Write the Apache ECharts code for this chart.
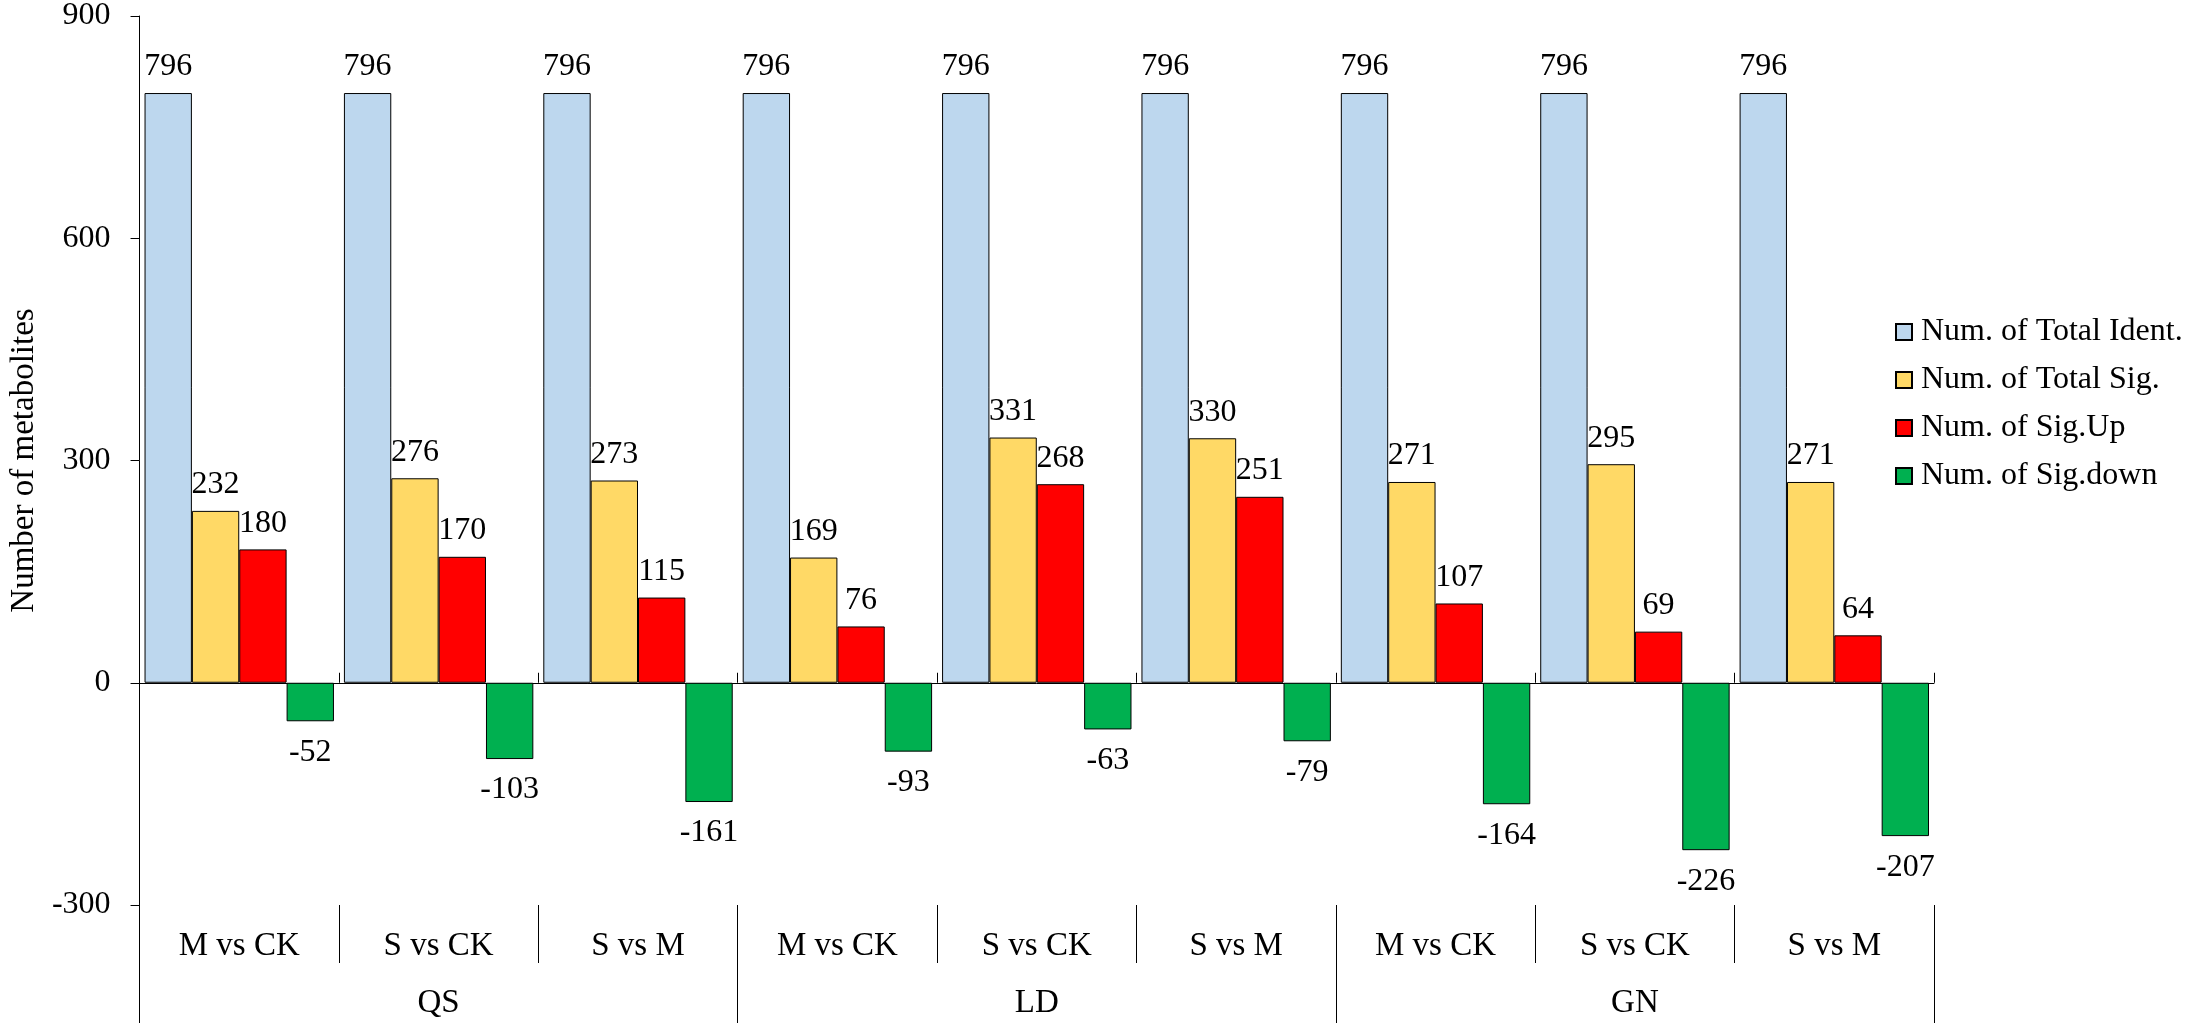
<!DOCTYPE html>
<html>
<head>
<meta charset="utf-8">
<script src="https://cdn.jsdelivr.net/npm/echarts@6/dist/echarts.min.js"></script>
<style>
  html, body { margin: 0; padding: 0; background: #fff; }
  #echart { width: 2189px; height: 1023px; }
</style>
</head>
<body>
<div id="echart"></div>
<script>
var dom = document.getElementById("echart");
var myChart = echarts.init(dom);

// categories and groups
let categories = ['M vs CK', 'S vs CK', 'S vs M', 'M vs CK', 'S vs CK', 'S vs M', 'M vs CK', 'S vs CK', 'S vs M'];
let groups = ['QS', 'LD', 'GN'];
let yTicks = [-300, 0, 300, 600, 900];

// series values
let totalIdent = [796, 796, 796, 796, 796, 796, 796, 796, 796];
let totalSig = [232, 276, 273, 169, 331, 330, 271, 295, 271];
let sigUp = [180, 170, 115, 76, 268, 251, 107, 69, 64];
let sigDown = [-52, -103, -161, -93, -63, -79, -164, -226, -207];

let font = 'Liberation Serif';

function barSeries(name, data, color, pos, dist) {
    return {
        name: name,
        type: 'bar',
        xAxisIndex: 0,
        barGap: 0,
        barCategoryGap: '5%',
        itemStyle: { color: color, borderColor: '#000', borderWidth: 1 },
        label: {
            show: true,
            position: pos,
            distance: dist,
            color: '#000',
            fontFamily: font,
            fontSize: 32
        },
        emphasis: { disabled: true },
        data: data
    };
}

var option = {
    animation: false,
    backgroundColor: '#fff',
    grid: {
        left: 126,
        right: 255,
        top: 11,
        bottom: 118
    },
    legend: {
        orient: 'vertical',
        left: 1890,
        top: 311,
        itemWidth: 16,
        itemHeight: 16,
        itemGap: 16,
        icon: 'rect',
        textStyle: { fontFamily: font, fontSize: 32, color: '#000', padding: [0, 0, 0, 4] },
        data: ['Num. of Total Ident.', 'Num. of Total Sig.', 'Num. of Sig.Up', 'Num. of Sig.down']
    },
    xAxis: [
        {
            type: 'category',
            position: 'bottom',
            data: categories,
            axisLine: { show: true, onZero: true, lineStyle: { color: '#000', width: 1 } },
            axisTick: { show: true, inside: true, length: 10, interval: 0, lineStyle: { color: '#000' } },
            axisLabel: { show: false }
        },
        {
            type: 'category',
            position: 'bottom',
            data: categories,
            axisLine: { show: false, onZero: false },
            axisTick: { show: true, length: 58, interval: 0, lineStyle: { color: '#000' } },
            axisLabel: { show: true, interval: 0, margin: 25, color: '#000', fontFamily: font, fontSize: 33 }
        },
        {
            type: 'category',
            position: 'bottom',
            data: groups,
            axisLine: { show: false, onZero: false },
            axisTick: { show: true, length: 118, interval: 0, lineStyle: { color: '#000' } },
            axisLabel: { show: true, interval: 0, margin: 82, color: '#000', fontFamily: font, fontSize: 33 }
        }
    ],
    yAxis: {
        type: 'value',
        min: yTicks[0],
        max: yTicks[yTicks.length - 1],
        interval: 300,
        name: 'Number of metabolites',
        nameLocation: 'middle',
        nameRotate: 90,
        nameGap: 93,
        nameTextStyle: { fontFamily: font, fontSize: 33, color: '#000' },
        axisLine: { show: true, lineStyle: { color: '#000', width: 1 } },
        axisTick: { show: true, length: 9, lineStyle: { color: '#000' } },
        axisLabel: { margin: 29, color: '#000', fontFamily: font, fontSize: 32 },
        splitLine: { show: false }
    },
    series: [
        barSeries('Num. of Total Ident.', totalIdent, '#BDD7EE', 'top', 10),
        barSeries('Num. of Total Sig.', totalSig, '#FFD966', 'top', 10),
        barSeries('Num. of Sig.Up', sigUp, '#FF0000', 'top', 10),
        barSeries('Num. of Sig.down', sigDown, '#00B050', 'bottom', 15)
    ]
};

myChart.setOption(option);
</script>
</body>
</html>
